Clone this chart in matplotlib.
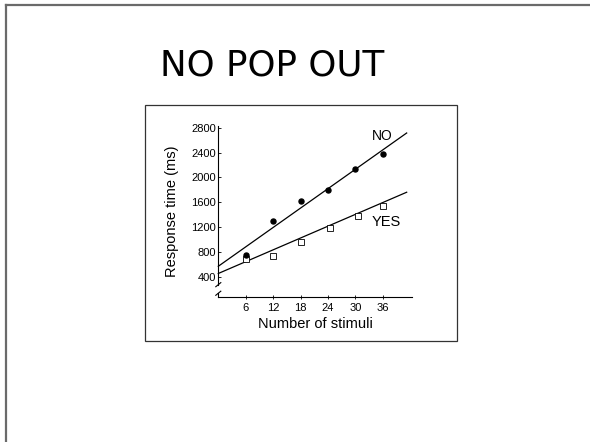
import matplotlib
matplotlib.use("Agg")
import matplotlib.pyplot as plt
from matplotlib.lines import Line2D
from matplotlib.patches import Rectangle
import numpy as np

# ---- data ----
title = "NO POP OUT"
no_x = [6, 12, 18, 24, 30, 36]
no_rt = [750, 1300, 1620, 1800, 2140, 2370]
yes_x = [6, 12, 18, 24.5, 30.6, 36]
yes_rt = [690, 740, 960, 1190, 1380, 1540]
no_fit = (52.0, 572)     # slope, intercept
yes_fit = (31.7, 456)
fit_x_range = [0, 41.2]
x_ticks = [6, 12, 18, 24, 30, 36]
y_ticks = [400, 800, 1200, 1600, 2000, 2400, 2800]
x_label = "Number of stimuli"
y_label = "Response time (ms)"

W, H = 590, 442
fig = plt.figure(figsize=(W / 100, H / 100), dpi=100)
fig.patch.set_facecolor("white")

def fx(px):
    return px / W

def fy(py):
    return 1 - py / H

# slide frame (top and left)
fig.add_artist(Line2D([fx(6), fx(590)], [fy(5), fy(5)], color="#6a6a6a", lw=1.6,
                      transform=fig.transFigure))
fig.add_artist(Line2D([fx(6), fx(6)], [fy(5), fy(442)], color="#6a6a6a", lw=1.6,
                      transform=fig.transFigure))

# title
fig.text(fx(160.5), fy(76), title, fontsize=25.7, family="DejaVu Sans",
         ha="left", va="baseline", color="black")

# chart box
fig.add_artist(Rectangle((fx(145), fy(341)), fx(457) - fx(145), fy(105) - fy(341),
                         fill=False, edgecolor="#333333", lw=0.9,
                         transform=fig.transFigure))

ax = fig.add_axes([fx(218.3), fy(297), fx(411.7) - fx(218.3), fy(125.8) - fy(297)])
ax.set_xlim(0, 42.3)
ax.set_ylim(78, 2830)

font = ["Liberation Sans", "DejaVu Sans"]

xs = np.array(fit_x_range)
ax.plot(xs, no_fit[0] * xs + no_fit[1], color="black", lw=0.9, clip_on=False)
ax.plot(xs, yes_fit[0] * xs + yes_fit[1], color="black", lw=0.9, clip_on=False)

ax.plot(yes_x, yes_rt, linestyle="none", marker="s", markersize=4.3,
        markerfacecolor="white", markeredgecolor="black", markeredgewidth=0.6,
        clip_on=False, zorder=3)
ax.plot(no_x, no_rt, linestyle="none", marker="o", markersize=3.6,
        color="black", clip_on=False, zorder=4)

ax.text(33.6, 2665, "NO", fontsize=10, family=font, ha="left", va="center")
ax.text(33.6, 1290, "YES", fontsize=10.5, family=font, ha="left", va="center")

ax.set_xticks(x_ticks)
ax.set_xticklabels([str(v) for v in x_ticks], family=font, fontsize=8)
ax.set_yticks(y_ticks)
ax.set_yticklabels([str(v) for v in y_ticks], family=font, fontsize=8)
ax.tick_params(axis="y", direction="in", length=2.5, width=0.6, pad=1.5)
ax.tick_params(axis="x", direction="inout", length=3.5, width=0.6, pad=2.5)

for s in ["top", "right"]:
    ax.spines[s].set_visible(False)
ax.spines["bottom"].set_linewidth(0.8)
ax.spines["left"].set_linewidth(0.8)

# axis break on the y axis
ax.spines["left"].set_bounds(ax.get_ylim()[0] + (2830 - 78) * 0.072, 2830)
ax.add_artist(Line2D([0, 0], [0, 0.022], color="black", lw=0.8,
                     transform=ax.transAxes, clip_on=False))
for yb in [0.072, 0.022]:
    ax.add_artist(Line2D([-0.013, 0.013], [yb - 0.012, yb + 0.012], color="black",
                         lw=0.8, transform=ax.transAxes, clip_on=False))

ax.set_xlabel(x_label, family=font, fontsize=10.5, labelpad=3)
ax.set_ylabel(y_label, family=font, fontsize=10.5, labelpad=9)

fig.savefig("out.png", dpi=100, facecolor="white")
